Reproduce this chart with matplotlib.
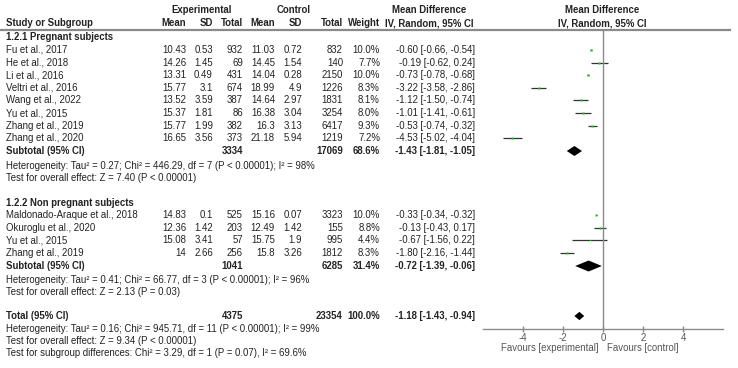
import matplotlib
matplotlib.use('Agg')
import matplotlib.pyplot as plt
from matplotlib.patches import Polygon

plt.rcParams['font.family'] = ['Liberation Sans', 'DejaVu Sans']

W, H = 738, 368

# ---- data: 1.2.1 pregnant subjects
g1_name = "1.2.1 Pregnant subjects"
g1_studies = ["Fu et al., 2017", "He et al., 2018", "Li et al., 2016", "Veltri et al., 2016",
              "Wang et al., 2022", "Yu et al., 2015", "Zhang et al., 2019", "Zhang et al., 2020"]
g1_exp_mean = [10.43, 14.26, 13.31, 15.77, 13.52, 15.37, 15.77, 16.65]
g1_exp_sd = [0.53, 1.45, 0.49, 3.1, 3.59, 1.81, 1.99, 3.56]
g1_exp_n = [932, 69, 431, 674, 387, 86, 382, 373]
g1_ctl_mean = [11.03, 14.45, 14.04, 18.99, 14.64, 16.38, 16.3, 21.18]
g1_ctl_sd = [0.72, 1.54, 0.28, 4.9, 2.97, 3.04, 3.13, 5.94]
g1_ctl_n = [832, 140, 2150, 1226, 1831, 3254, 6417, 1219]
g1_weight = [10.0, 7.7, 10.0, 8.3, 8.1, 8.0, 9.3, 7.2]
g1_md = [-0.60, -0.19, -0.73, -3.22, -1.12, -1.01, -0.53, -4.53]
g1_lo = [-0.66, -0.62, -0.78, -3.58, -1.50, -1.41, -0.74, -5.02]
g1_hi = [-0.54, 0.24, -0.68, -2.86, -0.74, -0.61, -0.32, -4.04]
g1_sub = dict(exp_n=3334, ctl_n=17069, weight=68.6, md=-1.43, lo=-1.81, hi=-1.05)
g1_notes = ["Heterogeneity: Tau\u00b2 = 0.27; Chi\u00b2 = 446.29, df = 7 (P < 0.00001); I\u00b2 = 98%",
            "Test for overall effect: Z = 7.40 (P < 0.00001)"]

# ---- data: 1.2.2 non pregnant subjects
g2_name = "1.2.2 Non pregnant subjects"
g2_studies = ["Maldonado-Araque et al., 2018", "Okuroglu et al., 2020", "Yu et al., 2015", "Zhang et al., 2019"]
g2_exp_mean = [14.83, 12.36, 15.08, 14]
g2_exp_sd = [0.1, 1.42, 3.41, 2.66]
g2_exp_n = [525, 203, 57, 256]
g2_ctl_mean = [15.16, 12.49, 15.75, 15.8]
g2_ctl_sd = [0.07, 1.42, 1.9, 3.26]
g2_ctl_n = [3323, 155, 995, 1812]
g2_weight = [10.0, 8.8, 4.4, 8.3]
g2_md = [-0.33, -0.13, -0.67, -1.80]
g2_lo = [-0.34, -0.43, -1.56, -2.16]
g2_hi = [-0.32, 0.17, 0.22, -1.44]
g2_sub = dict(exp_n=1041, ctl_n=6285, weight=31.4, md=-0.72, lo=-1.39, hi=-0.06)
g2_notes = ["Heterogeneity: Tau\u00b2 = 0.41; Chi\u00b2 = 66.77, df = 3 (P < 0.00001); I\u00b2 = 96%",
            "Test for overall effect: Z = 2.13 (P = 0.03)"]

total = dict(exp_n=4375, ctl_n=23354, weight=100.0, md=-1.18, lo=-1.43, hi=-0.94)
total_notes = ["Heterogeneity: Tau\u00b2 = 0.16; Chi\u00b2 = 945.71, df = 11 (P < 0.00001); I\u00b2 = 99%",
               "Test for overall effect: Z = 9.34 (P < 0.00001)",
               "Test for subgroup differences: Chi\u00b2 = 3.29, df = 1 (P = 0.07), I\u00b2 = 69.6%"]

x_ticks = [-4, -2, 0, 2, 4]

# ---- layout (pixel columns / rows)
FS = 6.9
TXT = '#222222'
GRID = '#8a8a8a'
col_x = dict(em=186, esd=213, en=243, cm=275, csd=302, cn=343, w=380, ci=475)
g1_rows = [50 + 12.6 * i for i in range(len(g1_studies))]
g1_sub_y = 151
g2_rows = [215 + 12.7 * i for i in range(len(g2_studies))]
g2_sub_y = 266
tot_y = 316

fig = plt.figure(figsize=(W / 100, H / 100), dpi=100)
tab = fig.add_axes([0, 0, 1, 1])
tab.set_xlim(0, W)
tab.set_ylim(H, 0)
tab.axis('off')

ax = fig.add_axes([483 / W, (H - 329) / H, 240 / W, 300 / H])
ax.set_xlim(-6, 6)
ax.set_ylim(329, 29)
ax.patch.set_alpha(0)


def t(x, y, s, ha='left', bold=False, color=TXT):
    tab.text(x, y, s, ha=ha, va='center', fontsize=FS, color=color,
             fontweight='bold' if bold else 'normal')


def ci_text(md, lo, hi):
    return "%.2f [%.2f, %.2f]" % (md, lo, hi)


# header
t(202, 10, "Experimental", ha='center', bold=True)
t(294, 10, "Control", ha='center', bold=True)
t(429, 10, "Mean Difference", ha='center', bold=True)
t(602, 10, "Mean Difference", ha='center', bold=True)
t(6, 23, "Study or Subgroup", bold=True)
for key, lab in [('em', 'Mean'), ('esd', 'SD'), ('en', 'Total'), ('cm', 'Mean'),
                 ('csd', 'SD'), ('cn', 'Total'), ('w', 'Weight')]:
    t(col_x[key], 23, lab, ha='right', bold=True)
t(429, 23, "IV, Random, 95% CI", ha='center', bold=True)
t(602, 23, "IV, Random, 95% CI", ha='center', bold=True)
tab.plot([0, 730], [29.5, 29.5], color=GRID, lw=1.6)


def draw_group(name, name_y, rows, studies, em, esd, en, cm, csd, cn, wt, md, lo, hi):
    t(6, name_y, name, bold=True)
    for i, y in enumerate(rows):
        t(6, y, studies[i])
        t(col_x['em'], y, "%g" % em[i], ha='right')
        t(col_x['esd'], y, "%g" % esd[i], ha='right')
        t(col_x['en'], y, "%d" % en[i], ha='right')
        t(col_x['cm'], y, "%g" % cm[i], ha='right')
        t(col_x['csd'], y, "%g" % csd[i], ha='right')
        t(col_x['cn'], y, "%d" % cn[i], ha='right')
        t(col_x['w'], y, "%.1f%%" % wt[i], ha='right')
        t(col_x['ci'], y, ci_text(md[i], lo[i], hi[i]), ha='right')
    ax.hlines(rows, lo, hi, color='#333333', lw=0.9)
    for i, y in enumerate(rows):
        ax.plot(md[i], y, 's', color='#14c814', ms=wt[i] * 0.2, mec='none')


def draw_summary(y, label, s, half_h):
    t(6, y, label, bold=True)
    t(col_x['en'], y, "%d" % s['exp_n'], ha='right', bold=True)
    t(col_x['cn'], y, "%d" % s['ctl_n'], ha='right', bold=True)
    t(col_x['w'], y, "%.1f%%" % s['weight'], ha='right', bold=True)
    t(col_x['ci'], y, ci_text(s['md'], s['lo'], s['hi']), ha='right', bold=True)
    ax.add_patch(Polygon([(s['lo'], y), (s['md'], y - half_h), (s['hi'], y), (s['md'], y + half_h)],
                         closed=True, color='black', lw=0))


draw_group(g1_name, 37, g1_rows, g1_studies, g1_exp_mean, g1_exp_sd, g1_exp_n,
           g1_ctl_mean, g1_ctl_sd, g1_ctl_n, g1_weight, g1_md, g1_lo, g1_hi)
draw_summary(g1_sub_y, "Subtotal (95% CI)", g1_sub, 5)
t(6, 166, g1_notes[0])
t(6, 178, g1_notes[1])

draw_group(g2_name, 203, g2_rows, g2_studies, g2_exp_mean, g2_exp_sd, g2_exp_n,
           g2_ctl_mean, g2_ctl_sd, g2_ctl_n, g2_weight, g2_md, g2_lo, g2_hi)
draw_summary(g2_sub_y, "Subtotal (95% CI)", g2_sub, 5.5)
t(6, 280, g2_notes[0])
t(6, 292, g2_notes[1])

draw_summary(tot_y, "Total (95% CI)", total, 4.2)
for i, s in enumerate(total_notes):
    t(6, 329 + 12 * i, s)

# forest axis
ax.axvline(0, color=GRID, lw=1)
for side in ['top', 'left', 'right']:
    ax.spines[side].set_visible(False)
ax.spines['bottom'].set_color(GRID)
ax.spines['bottom'].set_linewidth(1)
ax.set_yticks([])
ax.set_xticks(x_ticks)
ax.set_xticklabels([str(v) for v in x_ticks])
ax.tick_params(axis='x', direction='inout', length=5, width=1, color=GRID,
               labelsize=FS, labelcolor='#555555', pad=0.5)
t(599, 348, "Favours [experimental]", ha='right', color='#555555')
t(607, 348, "Favours [control]", color='#555555')

fig.savefig('out.png', dpi=100)
